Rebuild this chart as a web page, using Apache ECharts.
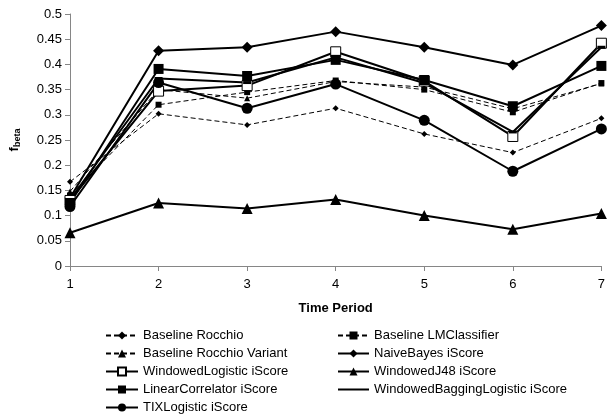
<!DOCTYPE html>
<html>
<head>
<meta charset="utf-8">
<script src="https://cdn.jsdelivr.net/npm/echarts@6/dist/echarts.min.js"></script>
<style>html,body{margin:0;padding:0;background:#fff;}#c{width:608px;height:417px;}</style>
</head>
<body>
<div id="c"></div>
<script>
var periods = ['1', '2', '3', '4', '5', '6', '7'];
var baselineRocchio      = [0.167, 0.302, 0.280, 0.313, 0.262, 0.225, 0.293];
var baselineLMClassifier = [0.140, 0.320, 0.345, 0.368, 0.350, 0.305, 0.363];
var baselineRocchioVar   = [0.148, 0.350, 0.333, 0.366, 0.355, 0.312, 0.362];
var naiveBayes           = [0.135, 0.427, 0.434, 0.465, 0.434, 0.399, 0.477];
var windowedLogistic     = [0.130, 0.347, 0.358, 0.425, 0.367, 0.257, 0.442];
var windowedJ48          = [0.066, 0.125, 0.114, 0.132, 0.100, 0.073, 0.104];
var linearCorrelator     = [0.125, 0.391, 0.377, 0.409, 0.369, 0.317, 0.397];
var windowedBagging      = [0.132, 0.372, 0.364, 0.414, 0.363, 0.266, 0.434];
var tixLogistic          = [0.118, 0.364, 0.313, 0.361, 0.289, 0.188, 0.272];

var FONT = 'Liberation Sans, Arial, sans-serif';
function dashed(name, data, symbol, size) {
  return { name: name, type: 'line', data: data, symbol: symbol, symbolSize: size,
    lineStyle: { color: '#000', width: 1, type: [5, 3] },
    itemStyle: { color: '#000', borderColor: '#000', borderWidth: 0 }, z: 2 };
}
function solid(name, data, symbol, size, hollow) {
  return { name: name, type: 'line', data: data, symbol: symbol, symbolSize: size, symbolKeepAspect: true,
    lineStyle: { color: '#000', width: 2 },
    itemStyle: hollow ? { color: '#fff', borderColor: '#000', borderWidth: 1 } : { color: '#000', borderColor: '#000', borderWidth: 0 }, z: 3 };
}
var series = [
  dashed('Baseline Rocchio', baselineRocchio, 'diamond', 6),
  dashed('Baseline LMClassifier', baselineLMClassifier, 'rect', 6),
  dashed('Baseline Rocchio Variant', baselineRocchioVar, 'triangle', 6),
  solid('NaiveBayes iScore', naiveBayes, 'diamond', 11),
  solid('WindowedLogistic iScore', windowedLogistic, 'rect', 10, true),
  solid('WindowedJ48 iScore', windowedJ48, 'triangle', 11),
  solid('LinearCorrelator iScore', linearCorrelator, 'rect', 10),
  solid('WindowedBaggingLogistic iScore', windowedBagging, 'rect', [8, 3]),
  solid('TIXLogistic iScore', tixLogistic, 'circle', 11)
];
var legendText = { fontFamily: FONT, fontSize: 13, color: '#000' };
var chart = echarts.init(document.getElementById('c'), null, { renderer: 'canvas' });
chart.setOption({
  animation: false,
  backgroundColor: '#fff',
  grid: { left: 64, right: 4, top: 14, bottom: 151, containLabel: false },
  legend: [
    { orient: 'vertical', left: 105, top: 329, padding: 0, itemWidth: 32, itemHeight: 10, itemGap: 5,
      textStyle: legendText, selectedMode: false,
      data: ['Baseline Rocchio', 'Baseline Rocchio Variant', 'WindowedLogistic iScore', 'LinearCorrelator iScore', 'TIXLogistic iScore'] },
    { orient: 'vertical', left: 337, top: 329, padding: 0, itemWidth: 31, itemHeight: 10, itemGap: 5,
      textStyle: legendText, selectedMode: false,
      data: ['Baseline LMClassifier', 'NaiveBayes iScore', 'WindowedJ48 iScore',
        { name: 'WindowedBaggingLogistic iScore', itemStyle: { opacity: 0 } }] }
  ],
  xAxis: {
    type: 'category', data: periods, boundaryGap: false,
    name: 'Time Period', nameLocation: 'middle', nameGap: 36,
    nameTextStyle: { fontFamily: FONT, fontSize: 13, fontWeight: 'bold', color: '#000' },
    axisLine: { lineStyle: { color: '#868686', width: 1 } },
    axisTick: { show: true, length: 5, lineStyle: { color: '#868686' } },
    axisLabel: { fontFamily: FONT, fontSize: 13, color: '#000', margin: 12 },
    splitLine: { show: false }
  },
  yAxis: {
    type: 'value', min: 0, max: 0.5, interval: 0.05,
    name: '{f|f}{b|beta}', nameLocation: 'middle', nameGap: 48, nameRotate: 90,
    nameTextStyle: { rich: {
      f: { fontFamily: FONT, fontSize: 13, fontWeight: 'bold', color: '#000' },
      b: { fontFamily: FONT, fontSize: 9, fontWeight: 'bold', color: '#000', padding: [6, 0, 0, 0] } } },
    axisLine: { show: true, lineStyle: { color: '#868686', width: 1 } },
    axisTick: { show: true, length: 5, lineStyle: { color: '#868686' } },
    axisLabel: { fontFamily: FONT, fontSize: 13, color: '#000', margin: 8,
      formatter: function (v) { return String(Math.round(v * 100) / 100); } },
    splitLine: { show: false }
  },
  series: series
});
</script>
</body>
</html>
